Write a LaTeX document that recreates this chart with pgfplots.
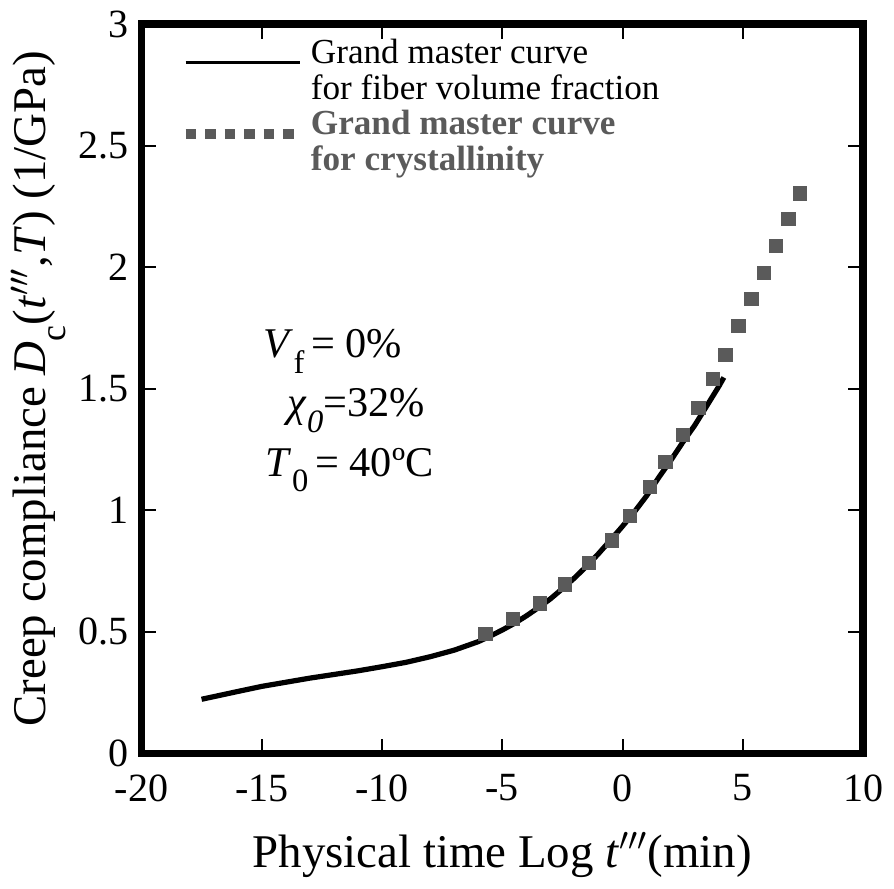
\documentclass[border=0pt]{standalone}
\usepackage{fontspec}
\setmainfont{Liberation Serif}
\usepackage{pgfplots}
\pgfplotsset{compat=1.18}
\definecolor{markgray}{RGB}{90,90,90}
\pgfplotsset{legend image code/.code={\draw[#1] (0pt,0pt) -- (35pt,0pt);}}

\begin{document}
\begin{tikzpicture}
\begin{axis}[
    scale only axis,
    width=221.7pt, height=224pt,
    xmin=-20, xmax=10, ymin=0, ymax=3,
    xtick={-20,-15,...,10},
    ytick={0,0.5,1,1.5,2,2.5,3},
    yticklabels={0,0.5,1,1.5,2,2.5,3},
    minor tick num=0,
    tick align=inside,
    tick pos=both,
    major tick length=4.5pt,
    tick style={black, line width=0.6pt},
    axis line style={line width=2.4pt},
    /pgf/number format/assume math mode=true,
    tick label style={font=\fontsize{12.3}{13}\selectfont},
    xticklabel style={yshift=-3pt},
    yticklabel style={xshift=-0.5pt},
    label style={font=\fontsize{14.4}{15}\selectfont},
    xlabel={Physical time Log \textit{t}$'''$(min)},
    ylabel={Creep compliance \textit{D}\raisebox{-0.9ex}{\fontsize{11}{11}\selectfont c}(\textit{t}$'''$,\textit{T}) (1/GPa)},
    xlabel style={yshift=-2.5pt},
    ylabel style={yshift=-3pt},
    legend style={at={(0.04,1.0)}, anchor=north west, draw=none, fill=none,
        font=\fontsize{10.8}{11.1}\selectfont, row sep=2.4pt},
    legend cell align=left,
]

% black master curve (fiber volume fraction)
\addplot[black, line width=1.6pt, forget plot] coordinates {
(-17.5,0.223) (-16,0.255) (-15,0.276) (-14,0.293) (-13,0.310) (-12,0.325)
(-11,0.340) (-10,0.357) (-9,0.375) (-8,0.398) (-7,0.425) (-6,0.460)
(-5.5,0.483) (-5,0.508) (-4.5,0.535) (-4,0.566) (-3.5,0.600) (-3,0.636)
(-2.5,0.678) (-2,0.722) (-1.5,0.770) (-1,0.822) (-0.5,0.878) (0,0.935)
(0.5,0.995) (1,1.06) (1.5,1.135) (2,1.205) (2.5,1.28) (3,1.35)
(3.5,1.43) (4,1.51) (4.21,1.547)
};

% grey master curve (crystallinity)
\addplot[only marks, mark=square*, mark size=2pt, color=markgray, forget plot] coordinates {
(-5.70,0.492) (-4.55,0.553) (-3.43,0.617) (-2.38,0.695) (-1.40,0.783)
(-0.45,0.876) (0.31,0.978) (1.15,1.097) (1.79,1.200) (2.51,1.310)
(3.15,1.420) (3.76,1.540) (4.28,1.640) (4.82,1.760) (5.36,1.870)
(5.87,1.976) (6.38,2.088) (6.90,2.199) (7.37,2.304)
};

\addlegendimage{black, line width=0.9pt}
\addlegendentry{\begin{tabular}{@{}l@{}}Grand master curve\\for fiber volume fraction\end{tabular}}
\addlegendimage{markgray, line width=3pt, dash pattern=on 3.2pt off 2.8pt}
\addlegendentry{\textcolor{markgray}{\bfseries\begin{tabular}{@{}l@{}}Grand master curve\\for crystallinity\end{tabular}}}

\node[font=\fontsize{13}{14}\selectfont, anchor=west] at (axis cs:-15.4,1.655)
    {\textit{V}\raisebox{-0.8ex}{\fontsize{10}{10}\selectfont f}\,= 0\%};
\node[font=\fontsize{13}{14}\selectfont, anchor=west] at (axis cs:-14.4,1.41)
    {\textit{χ}\raisebox{-0.8ex}{\fontsize{10}{10}\selectfont\textit{0}}=32\%};
\node[font=\fontsize{13}{14}\selectfont, anchor=west] at (axis cs:-15.3,1.165)
    {\textit{T}\raisebox{-0.8ex}{\fontsize{10}{10}\selectfont 0}\,= 40ºC};

\end{axis}
\end{tikzpicture}
\end{document}
